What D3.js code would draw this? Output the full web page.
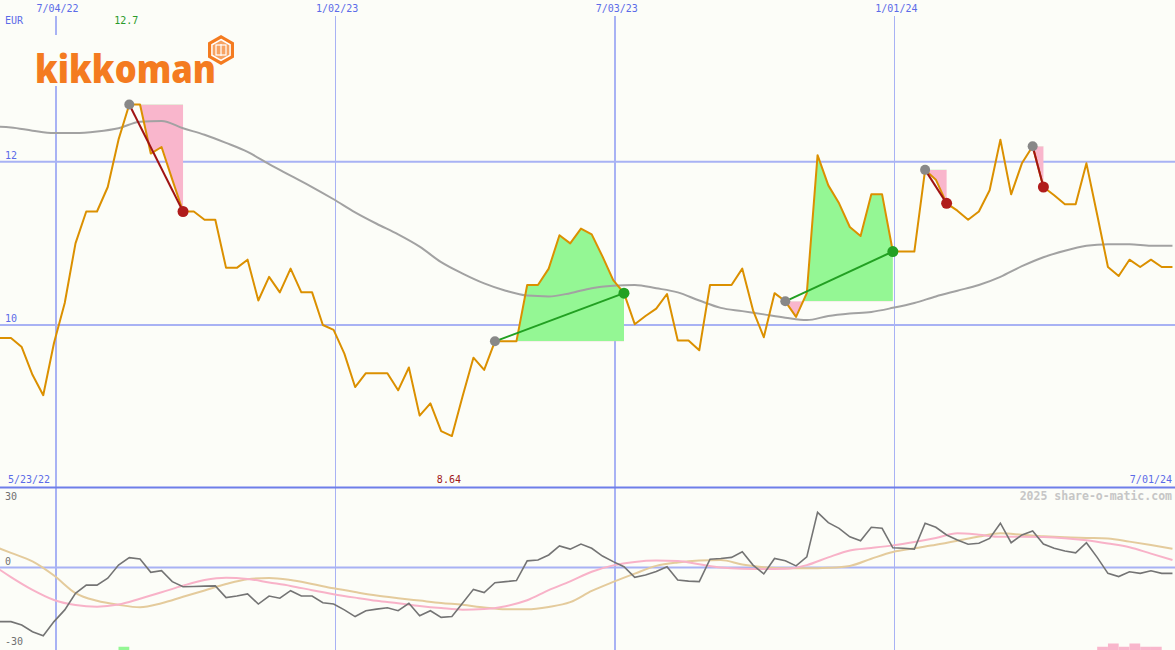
<!DOCTYPE html>
<html><head><meta charset="utf-8">
<script src="https://cdn.jsdelivr.net/npm/d3@7"></script>
<style>html,body{margin:0;padding:0;background:#fcfdf8;} svg{display:block}</style>
</head><body>
<svg id="c" width="1175" height="650"></svg>
<script>
// ---------- data ----------
const firstWeek = "2022-05-22";
const rangeStart = "2022-05-23";
const rangeEnd = "2024-07-01";
const currency = "EUR";
const watermark = "2025 share-o-matic.com";

const price = [
  9.84, 9.84, 9.84, 9.73, 9.39, 9.14, 9.78, 10.27, 11.00, 11.39,
  11.39, 11.69, 12.27, 12.70, 12.70, 12.10, 12.18, 11.78, 11.39, 11.39,
  11.29, 11.29, 10.70, 10.70, 10.80, 10.30, 10.59, 10.40, 10.69, 10.40,
  10.40, 10.00, 9.94, 9.65, 9.24, 9.41, 9.41, 9.41, 9.20, 9.48,
  8.89, 9.04, 8.70, 8.64, 9.13, 9.60, 9.45, 9.80, 9.80, 9.80,
  10.49, 10.49, 10.69, 11.10, 11.00, 11.18, 11.11, 10.84, 10.55, 10.39,
  10.01, 10.11, 10.20, 10.38, 9.81, 9.81, 9.69, 10.49, 10.49, 10.49,
  10.69, 10.18, 9.85, 10.39, 10.29, 10.10, 10.39, 12.08, 11.71, 11.49,
  11.20, 11.09, 11.60, 11.60, 10.90, 10.90, 10.90, 11.90, 11.78, 11.49,
  11.40, 11.29, 11.39, 11.65, 12.27, 11.60, 11.98, 12.19, 11.69, 11.59,
  11.48, 11.48, 11.98, 11.35, 10.71, 10.60, 10.80, 10.71, 10.80, 10.71,
  10.71
];

const momentum = [
  -20.3, -20.3, -20.3, -21.6, -24.1, -25.6, -20.3, -15.9, -9.7, -6.6,
  -6.6, -4.0, 0.9, 3.7, 3.2, -1.8, -1.2, -5.3, -7.2, -7.1,
  -7.0, -6.9, -11.3, -10.7, -9.9, -13.7, -10.7, -11.5, -8.7, -10.7,
  -10.7, -13.2, -13.7, -15.9, -18.4, -16.2, -15.6, -15.1, -16.2, -13.4,
  -18.1, -16.2, -18.7, -18.4, -13.3, -8.2, -9.4, -5.7, -5.3, -4.9,
  2.5, 2.8, 4.7, 8.1, 6.9, 8.8, 7.2, 4.3, 2.2, 0.3,
  -3.7, -2.8, -1.5, 0.3, -4.7, -5.1, -5.3, 3.1, 3.4, 3.8,
  5.9, 0.9, -2.4, 3.4, 2.5, 0.6, 4.0, 20.7, 16.8, 14.7,
  11.5, 10.0, 15.1, 14.7, 7.4, 7.2, 6.9, 16.6, 15.1, 12.2,
  10.3, 8.7, 9.1, 10.9, 16.6, 9.3, 12.2, 13.7, 8.8, 7.2,
  6.2, 5.5, 9.3, 3.8, -2.2, -3.4, -1.6, -2.2, -1.2, -2.2,
  -2.2
];

// smooth series, sampled every second week
const movingAvg = [
  12.43, 12.42, 12.38, 12.35, 12.35, 12.37, 12.41, 12.49, 12.50, 12.41,
  12.33, 12.23, 12.12, 11.97, 11.83, 11.69, 11.54, 11.38, 11.24, 11.11,
  10.96, 10.77, 10.63, 10.51, 10.42, 10.36, 10.35, 10.39, 10.45, 10.48,
  10.49, 10.45, 10.40, 10.30, 10.21, 10.17, 10.13, 10.09, 10.06, 10.11,
  10.14, 10.16, 10.21, 10.27, 10.35, 10.42, 10.49, 10.59, 10.72, 10.83,
  10.91, 10.97, 10.99, 10.99, 10.97, 10.97
];
const oscPink = [
  1.8, -3.6, -8.4, -12.2, -14.1, -14.7, -13.9, -11.7, -9.3, -6.8,
  -4.7, -3.8, -4.3, -5.6, -6.9, -8.5, -10.0, -11.3, -12.5, -13.4,
  -14.4, -15.2, -15.8, -15.6, -14.5, -12.3, -8.5, -5.2, -1.6, 0.8,
  2.1, 2.6, 2.4, 1.2, 0.0, -0.5, -0.6, -0.5, 0.9, 3.8,
  6.4, 7.3, 8.3, 9.6, 11.1, 12.8, 12.3, 11.5, 11.5, 11.4,
  11.0, 10.2, 9.0, 7.6, 5.2, 2.8
];
const oscTan = [
  8.6, 5.5, 2.3, -3.0, -9.6, -12.5, -14.0, -14.9, -13.4, -11.0,
  -8.6, -6.2, -4.4, -3.9, -4.7, -6.2, -7.8, -9.2, -10.5, -11.5,
  -12.4, -13.3, -14.0, -15.0, -15.7, -15.7, -14.8, -13.0, -8.8, -5.4,
  -2.3, 0.6, 1.9, 2.6, 2.8, 1.1, 0.1, -0.3, -0.3, -0.1,
  0.6, 3.3, 5.8, 7.2, 8.5, 10.0, 11.6, 12.8, 12.3, 11.7,
  11.3, 11.1, 10.9, 9.7, 8.4, 7.0
];

const gridDates = ["2022-07-04", "2023-01-02", "2023-07-03", "2024-01-01"];
const gridLabels = ["7/04/22", "1/02/23", "7/03/23", "1/01/24"];
const gridMajor = [true, false, true, false];
const priceTicks = [10, 12];
const oscTicks = [30, 0, -30];
const startLabel = "5/23/22";
const endLabel = "7/01/24";

// trade signals (week indices)
const signalStart = [13, 47, 74, 87, 97];
const signalEnd = [18, 59, 84, 89, 98];

// small bars along the bottom edge
const greenBarWeeks = [12];
const greenBarLevels = [1];
const pinkBarWeeks = [103, 104, 105, 106, 107, 108];
const pinkBarLevels = [1, 2, 1, 2, 1, 1];

// ---------- drawing ----------
const W = 1175, H = 650;
const BG = "#fcfdf8";
const parse = d3.timeParse("%Y-%m-%d");
const weeks = price.map((_, i) => d3.timeDay.offset(parse(firstWeek), 7 * i));
const smoothWeeks = weeks.filter((d, i) => i % 2 === 0);

const x = d3.scaleTime().domain([parse(rangeStart), parse(rangeEnd)]).range([-9, 1174]);
const y = d3.scaleLinear().domain([10, 12]).range([325, 161.7]);
const yo = d3.scaleLinear().domain([-30, 30]).range([647.5, 487.5]);
const barY = d3.scaleLinear().domain([0, 2]).range([650, 643.5]);

const svg = d3.select("#c");
const defs = svg.append("defs");
svg.append("rect").attr("width", W).attr("height", H).attr("fill", BG);

const gridCol = "#a8b2f4";
const mono = "'DejaVu Sans Mono', monospace";

// vertical grid
gridDates.forEach((d, k) => {
  svg.append("line")
    .attr("x1", Math.round(x(parse(d))) + (gridMajor[k] ? 0 : 0.5))
    .attr("x2", Math.round(x(parse(d))) + (gridMajor[k] ? 0 : 0.5))
    .attr("y1", 16).attr("y2", H)
    .attr("stroke", gridCol).attr("stroke-width", gridMajor[k] ? 2 : 1);
});
// horizontal grid (price)
priceTicks.forEach(v => {
  svg.append("line").attr("x1", 0).attr("x2", W)
    .attr("y1", y(v)).attr("y2", y(v))
    .attr("stroke", gridCol).attr("stroke-width", 2);
});
// oscillator zero line
svg.append("line").attr("x1", 0).attr("x2", W)
  .attr("y1", yo(0)).attr("y2", yo(0))
  .attr("stroke", gridCol).attr("stroke-width", 2);
// panel separator
svg.append("line").attr("x1", 0).attr("x2", W)
  .attr("y1", yo(30)).attr("y2", yo(30))
  .attr("stroke", "#6e7ee9").attr("stroke-width", 2);

// main panel clip
defs.append("clipPath").attr("id", "mainClip")
  .append("rect").attr("x", 0).attr("y", 0).attr("width", W).attr("height", yo(30) - 1);
const main = svg.append("g").attr("clip-path", "url(#mainClip)");

// signal fills
signalStart.forEach((s, k) => {
  const e = signalEnd[k];
  const base = y(price[s]);
  const idx = d3.range(s, e + 1);
  const area = d3.area()
    .x(i => x(weeks[i]))
    .y0(base)
    .y1(i => y(price[i]));
  defs.append("clipPath").attr("id", "up" + k)
    .append("rect").attr("x", 0).attr("y", 0).attr("width", W).attr("height", base);
  defs.append("clipPath").attr("id", "dn" + k)
    .append("rect").attr("x", 0).attr("y", base).attr("width", W).attr("height", H - base);
  main.append("path").attr("d", area(idx)).attr("fill", "#94f794")
    .attr("clip-path", `url(#up${k})`);
  main.append("path").attr("d", area(idx)).attr("fill", "#f9b6cc")
    .attr("clip-path", `url(#dn${k})`);
});

// moving average
main.append("path")
  .attr("d", d3.line().x((d, i) => x(smoothWeeks[i])).y(d => y(d)).curve(d3.curveMonotoneX)(movingAvg))
  .attr("fill", "none").attr("stroke", "#a2a2a2").attr("stroke-width", 2);

// price line
main.append("path")
  .attr("d", d3.line().x((d, i) => x(weeks[i])).y(d => y(d))(price))
  .attr("fill", "none").attr("stroke", "#db9000").attr("stroke-width", 2)
  .attr("stroke-linejoin", "round");

// signal lines and dots
signalStart.forEach((s, k) => {
  const e = signalEnd[k];
  const gain = price[e] >= price[s];
  main.append("line")
    .attr("x1", x(weeks[s])).attr("y1", y(price[s]))
    .attr("x2", x(weeks[e])).attr("y2", y(price[e]))
    .attr("stroke", gain ? "#22a022" : "#a01414").attr("stroke-width", 2);
  main.append("circle").attr("cx", x(weeks[s])).attr("cy", y(price[s])).attr("r", 5)
    .attr("fill", "#888888");
  main.append("circle").attr("cx", x(weeks[e])).attr("cy", y(price[e])).attr("r", 5.5)
    .attr("fill", gain ? "#22a022" : "#b01c1c");
});

// oscillator panel
const osc = svg.append("g");
osc.append("path")
  .attr("d", d3.line().x((d, i) => x(smoothWeeks[i])).y(d => yo(d)).curve(d3.curveMonotoneX)(oscTan))
  .attr("fill", "none").attr("stroke", "#e4cb9c").attr("stroke-width", 2);
osc.append("path")
  .attr("d", d3.line().x((d, i) => x(smoothWeeks[i])).y(d => yo(d)).curve(d3.curveMonotoneX)(oscPink))
  .attr("fill", "none").attr("stroke", "#f8b2c8").attr("stroke-width", 2);
osc.append("path")
  .attr("d", d3.line().x((d, i) => x(weeks[i])).y(d => yo(d))(momentum))
  .attr("fill", "none").attr("stroke", "#747474").attr("stroke-width", 1.6);

// bottom bars
greenBarWeeks.forEach((w, k) => {
  osc.append("rect").attr("x", x(weeks[w])).attr("width", x(weeks[w + 1]) - x(weeks[w]))
    .attr("y", barY(greenBarLevels[k])).attr("height", barY(0) - barY(greenBarLevels[k]))
    .attr("fill", "#94f794");
});
pinkBarWeeks.forEach((w, k) => {
  osc.append("rect").attr("x", x(weeks[w])).attr("width", x(weeks[w + 1]) - x(weeks[w]))
    .attr("y", barY(pinkBarLevels[k])).attr("height", barY(0) - barY(pinkBarLevels[k]))
    .attr("fill", "#f9b6cc");
});

// ---------- text ----------
const txt = (t, px, py, col, anchor, size, weight) =>
  svg.append("text").text(t).attr("x", px).attr("y", py)
    .attr("fill", col).attr("text-anchor", anchor || "start")
    .attr("font-family", mono).attr("font-size", size || 10)
    .attr("font-weight", weight || "normal");

gridDates.forEach((d, k) => txt(gridLabels[k], x(parse(d)) + 2, 12, "#5b6be8", "middle"));
txt(currency, 5, 24, "#5b6be8");
priceTicks.forEach(v => txt(String(v), 5, y(v) - 3, "#5b6be8"));
oscTicks.forEach(v => txt(String(v), 5, Math.max(yo(v) - 2.5, 500), "#707070"));
txt(startLabel, 8, 483, "#5b6be8");
txt(endLabel, 1172, 483, "#5b6be8", "end");

const fmt = d3.format(".3~g");
const iMax = d3.maxIndex(price), iMin = d3.minIndex(price);
txt(fmt(price[iMax]), x(weeks[iMax]) - 3, 24, "#2a9a2a", "middle");
txt(fmt(price[iMin]), x(weeks[iMin]) - 3, 483, "#a01818", "middle");
txt(watermark, 1172, 500, "#c6c6c6", "end", 11.5, "bold");

// ---------- logo ----------
const logo = svg.append("g");
logo.append("rect").attr("x", 30).attr("y", 35).attr("width", 212).attr("height", 51).attr("fill", BG);
logo.append("text").text("kikkoman").attr("x", 35).attr("y", 83)
  .attr("font-family", "'Open Sans', sans-serif").attr("font-weight", 800)
  .attr("font-size", 38).attr("fill", "#f47b20")
  .attr("textLength", 181).attr("lengthAdjust", "spacingAndGlyphs");
const hex = r => d3.range(6).map(k => {
  const a = Math.PI / 180 * (60 * k - 90);
  return [221 + r * Math.cos(a), 50 + r * Math.sin(a)];
});
logo.append("polygon").attr("points", hex(15).join(" ")).attr("fill", "#f47b20");
logo.append("polygon").attr("points", hex(10.5).join(" ")).attr("fill", "#f7a363")
  .attr("stroke", "#ffffff").attr("stroke-width", 1.5);
logo.append("rect").attr("x", 216).attr("y", 45).attr("width", 10).attr("height", 10)
  .attr("fill", "none").attr("stroke", "#ffffff").attr("stroke-width", 1.2);
logo.append("line").attr("x1", 221).attr("x2", 221).attr("y1", 44).attr("y2", 56)
  .attr("stroke", "#ffffff").attr("stroke-width", 1.2);
</script>
</body></html>
